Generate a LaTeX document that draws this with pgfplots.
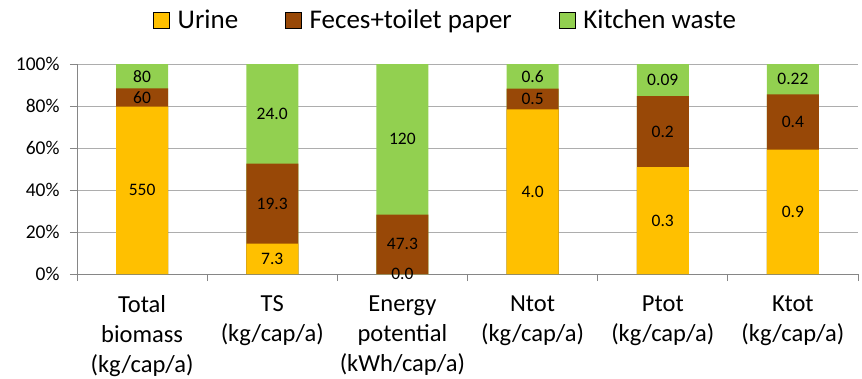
\documentclass[border=0pt]{standalone}
\usepackage{pgfplots}
\pgfplotsset{compat=1.18}
\usepackage{pgfplotstable}
\usepackage{fontspec}
\setmainfont{Carlito}

\definecolor{urine}{HTML}{FFC000}
\definecolor{feces}{HTML}{984807}
\definecolor{kitchen}{HTML}{92D050}
\definecolor{axisgray}{HTML}{868686}
\definecolor{gridgray}{HTML}{ADADAD}

% per-capita amounts: urine, feces+toilet paper, kitchen waste
\pgfplotstableread{
x  u     f     k
0  550   60    80
1  7.3   19.3  24.0
2  0.0   47.3  120
3  4.0   0.5   0.6
4  0.3   0.2   0.09
5  0.9   0.4   0.22
}\shares

\newcommand{\tot}{(\thisrow{u}+\thisrow{f}+\thisrow{k})}

\begin{document}
\begin{tikzpicture}
\begin{axis}[
  scale only axis, width=781pt, height=210pt,
  xmin=-0.5, xmax=5.5, ymin=0, ymax=100,
  axis lines*=left,
  axis line style={axisgray, line width=0.9pt},
  ymajorgrids, grid style={gridgray, line width=0.8pt},
  ytick={0,20,...,100},
  yticklabel={\pgfmathprintnumber{\tick}\%},
  /pgf/number format/assume math mode=true,
  y tick label style={font=\fontsize{19.5}{23}\selectfont, xshift=-7pt},
  tick align=outside,
  major tick length=7pt,
  tick style={axisgray, line width=0.9pt},
  xtick={-0.5,0.5,...,5.5},
  xticklabels={},
  extra x ticks={0,...,5},
  extra x tick labels={{Total\\biomass\\(kg/cap/a)}, {TS\\(kg/cap/a)},
    {Energy\\potential\\(kWh/cap/a)}, {Ntot\\(kg/cap/a)},
    {Ptot\\(kg/cap/a)}, {Ktot\\(kg/cap/a)}},
  extra x tick style={major tick length=0pt,
    tick label style={align=center, anchor=north, yshift=-18pt,
      font=\fontsize{24.5}{30}\selectfont}},
  legend columns=3,
  legend style={draw=none, fill=none, at={(0.472,1.21)}, anchor=center,
    font=\fontsize{27}{32}\selectfont,
    /tikz/every even column/.append style={column sep=45pt}},
  legend image code/.code={\fill[#1] (0pt,-8pt) rectangle (16pt,8pt);
    \path (22pt,0pt);},
  bars/.style={ybar, bar width=52pt, bar shift=0pt, draw=none, forget plot},
  seglabel/.style={draw=none, mark=none, forget plot, nodes near coords,
    point meta=explicit symbolic,
    every node near coord/.append style={anchor=center, text=black,
      font=\fontsize{17.5}{21}\selectfont}},
]
\addlegendimage{fill=urine}\addlegendentry{Urine}
\addlegendimage{fill=feces}\addlegendentry{Feces+toilet paper}
\addlegendimage{fill=kitchen}\addlegendentry{Kitchen waste}

% cumulative shares, drawn back to front
\addplot[bars, fill=kitchen] table[x=x, y expr={100*\tot/\tot}] {\shares};
\addplot[bars, fill=feces] table[x=x, y expr={100*(\thisrow{u}+\thisrow{f})/\tot}] {\shares};
\addplot[bars, fill=urine] table[x=x, y expr={100*\thisrow{u}/\tot}] {\shares};

% value labels in the middle of each segment
\addplot[seglabel] table[x=x, y expr={50*\thisrow{u}/\tot}, meta=u] {\shares};
\addplot[seglabel] table[x=x, y expr={100*(\thisrow{u}+0.5*\thisrow{f})/\tot}, meta=f] {\shares};
\addplot[seglabel] table[x=x, y expr={100*(\thisrow{u}+\thisrow{f}+0.5*\thisrow{k})/\tot}, meta=k] {\shares};
\end{axis}
\pgfresetboundingbox
\path[use as bounding box] (-77pt,-104pt) rectangle (785pt,274pt);
\end{tikzpicture}
\end{document}
